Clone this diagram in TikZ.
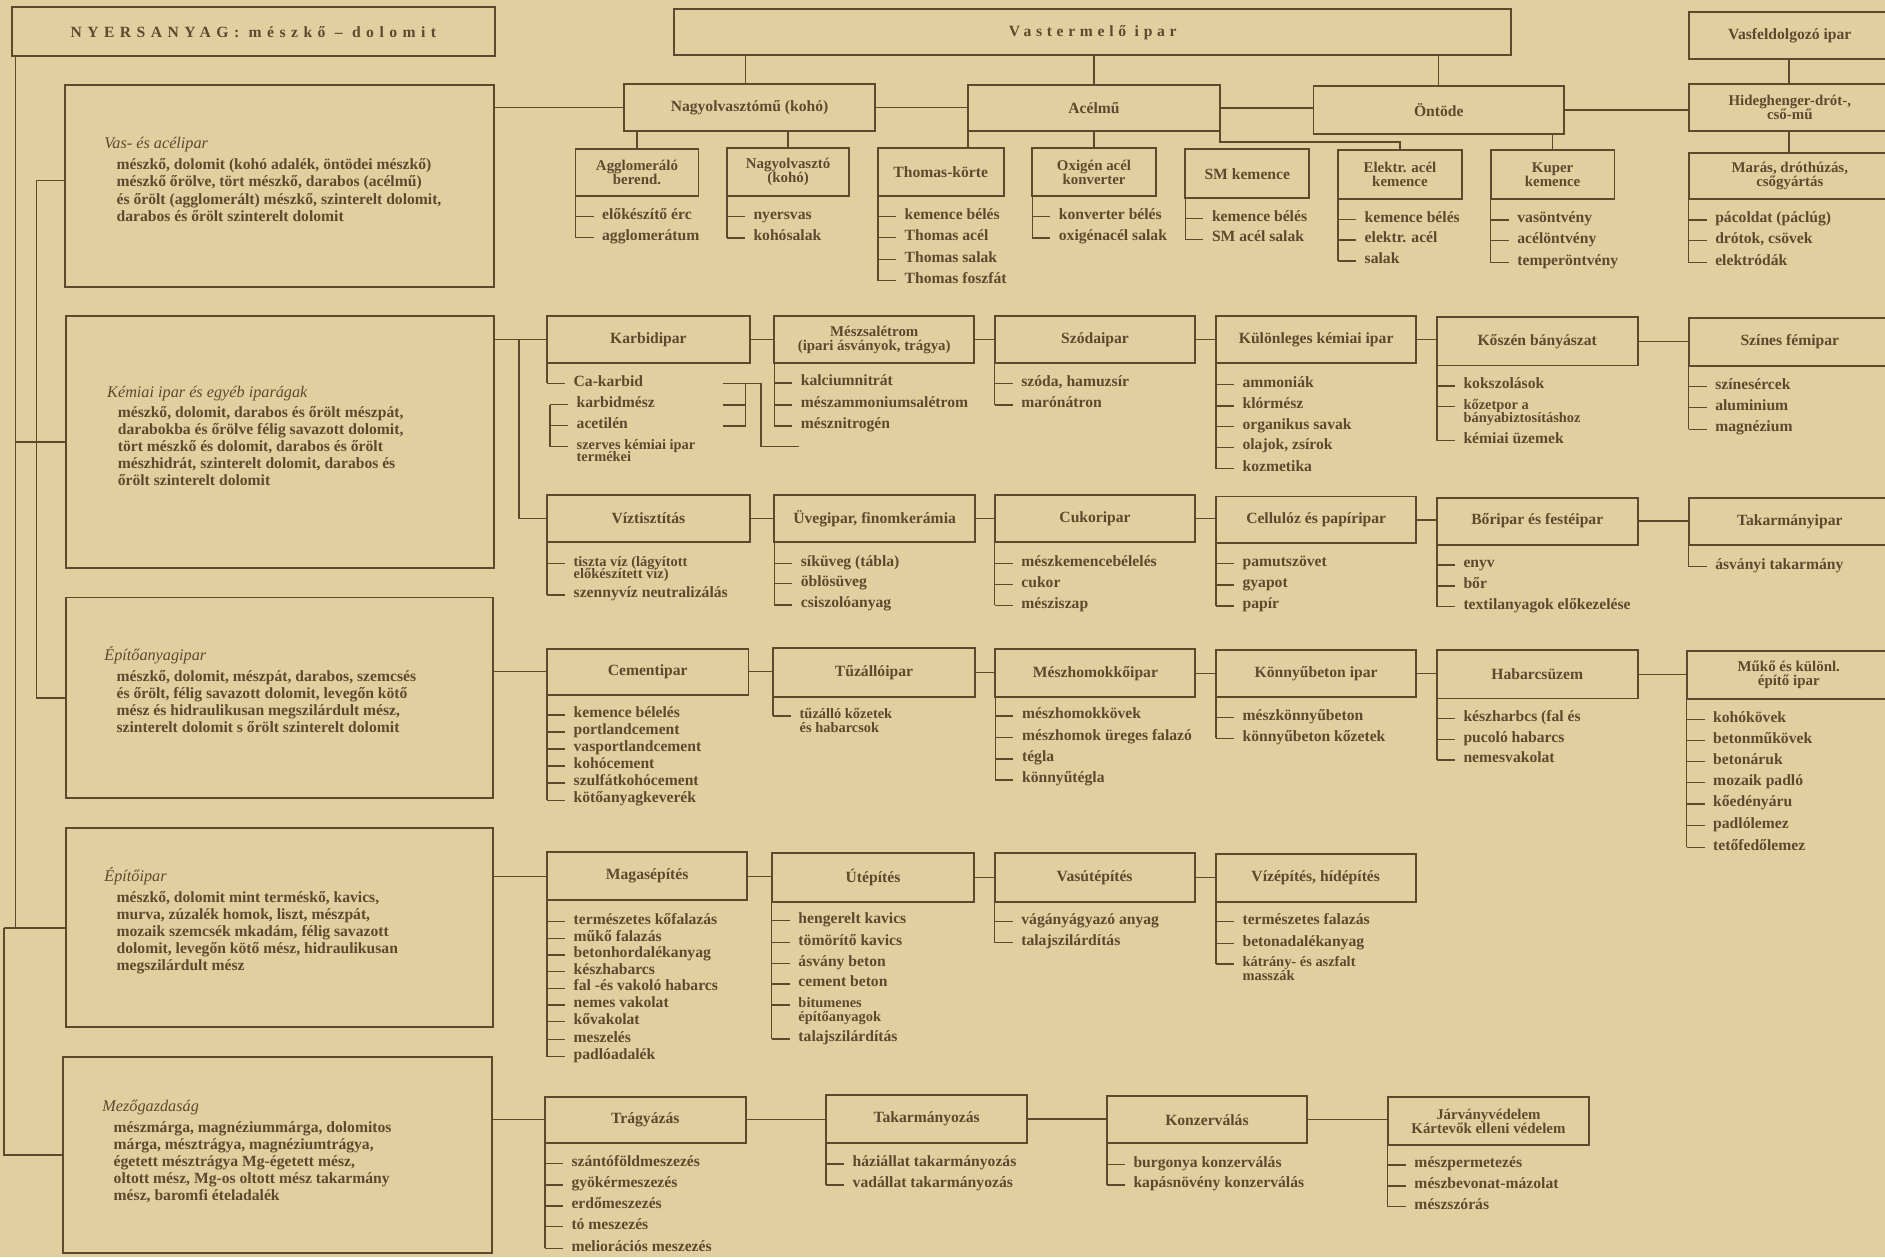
\documentclass[tikz,border=0pt]{standalone}
\usepackage{fontspec}
\setmainfont{Liberation Serif}
\definecolor{paper}{RGB}{226,207,160}
\definecolor{ink}{RGB}{96,72,46}
\newcommand\fHead{\fontsize{13}{13}\selectfont\bfseries}
\newcommand\fHeadS{\fontsize{12.4}{11.8}\selectfont\bfseries}
\newcommand\fItem{\fontsize{13}{14}\selectfont\bfseries}
\newcommand\fItemS{\fontsize{12}{11}\selectfont\bfseries}
\newcommand\fDesc{\fontsize{13}{14}\selectfont\bfseries}
\newcommand\fHdg{\fontsize{13.5}{14}\selectfont\itshape}
\newcommand\mkbox[7][]{\node[box,#1,anchor=north west,minimum width={(#5)-(#3)},minimum height={(#6)-(#4)}] (#2) at (#3,#4) {#7};}
\newcommand\mkitem[4]{\coordinate (#1t) at (#2,#3);\draw[tick] (#1t) -- ++(15,0);\node[itm] (#1) at (#2+22,#3) {#4};}
\newcommand\mkitemS[4]{\coordinate (#1t) at (#2,#3);\draw[tick] (#1t) -- ++(15,0);\node[itms] (#1) at (#2+22,#3) {#4};}
\newcommand\mkitemC[4]{\node[itms] (#1) at (#2+22,#3) {#4};}
\newcommand\mkdesc[4]{\node[dsc] (#1) at (#2,#3) {#4};}
\newcommand\mkhead[4]{\node[hdg] (#1) at (#2,#3) {#4};}
\begin{document}
\begin{tikzpicture}[x=1pt,y=-1pt,
  box/.style={draw=ink,line width=1.6pt,inner sep=0pt,outer sep=0pt,font=\fHead,text=ink,align=center},
  conn/.style={draw=ink,line width=1.15pt},
  tick/.style={draw=ink,line width=1.05pt},
  itm/.style={font=\fItem,text=ink,inner sep=0pt,anchor=mid west},
  itms/.style={font=\fItemS,text=ink,inner sep=0pt,anchor=mid west},
  dsc/.style={font=\fDesc,text=ink,inner sep=0pt,anchor=mid west},
  hdg/.style={font=\fHdg,text=ink,inner sep=0pt,anchor=mid west}]
\path[fill=paper,use as bounding box] (0,0) rectangle (1568,1046);
\clip (0,0) rectangle (1568,1046);
% ---------- top boxes
\mkbox{nyers}{10}{6}{411.5}{46.6}{\addfontfeature{LetterSpace=35}NYERSANYAG: mészkő – dolomit}
\mkbox{vast}{561}{7.5}{1257}{46}{\addfontfeature{LetterSpace=30}Vastermelő ipar}
\mkbox{vasfel}{1404.6}{9.7}{1573}{49.4}{Vasfeldolgozó ipar}
\mkbox{nagyk}{519}{69.5}{728}{109}{Nagyolvasztómű (kohó)}
\mkbox{acel}{805.3}{70.7}{1014.8}{108.7}{Acélmű}
\mkbox{ontode}{1092.6}{71.5}{1301}{111.8}{Öntöde}
\mkbox[font=\fHeadS]{hideg}{1404.6}{69.9}{1573}{108.7}{Hideghenger-drót-,\\cső-mű}
\mkbox[font=\fHeadS]{aggl}{478.7}{124}{581}{163}{Agglomeráló\\berend.}
\mkbox[font=\fHeadS]{nagyo}{604.6}{123.4}{706.5}{163}{Nagyolvasztó\\(kohó)}
\mkbox{thomas}{730.3}{123.4}{834.8}{163}{Thomas-körte}
\mkbox[font=\fHeadS]{oxig}{858.6}{123.4}{961.5}{163}{Oxigén acél\\konverter}
\mkbox{smk}{986}{124}{1089}{165}{SM kemence}
\mkbox[font=\fHeadS]{elektr}{1113}{124.8}{1216}{165.8}{Elektr. acél\\kemence}
\mkbox[font=\fHeadS]{kuper}{1240}{125}{1343}{165.8}{Kuper\\kemence}
\mkbox[font=\fHeadS]{maras}{1404.6}{127}{1573}{165.8}{Marás, dróthúzás,\\csőgyártás}
% ---------- left big boxes
\mkbox{vas}{54}{70.7}{411}{239}{}
\mkbox{kem}{55}{262.8}{410.8}{472.7}{}
\mkbox{epa}{55}{497}{410}{664}{}
\mkbox{epi}{55}{689}{410}{854.6}{}
\mkbox{mezo}{52.6}{879}{409}{1042.6}{}
% ---------- row 2a
\mkbox{karbid}{455}{263}{623.7}{302}{Karbidipar}
\mkbox[font=\fHeadS]{meszs}{644}{263}{810.4}{302}{Mészsalétrom\\(ipari ásványok, trágya)}
\mkbox{szoda}{827.4}{263}{994.4}{302}{Szódaipar}
\mkbox{kulon}{1011.4}{263}{1178.2}{302}{Különleges kémiai ipar}
\mkbox{koszen}{1195.2}{264}{1362.2}{304}{Kőszén bányászat}
\mkbox{szines}{1404.6}{264.8}{1573}{304.4}{Színes fémipar}
% ---------- row 2b
\mkbox{viz}{455}{412}{623.7}{450.6}{Víztisztítás}
\mkbox{uveg}{644}{412}{811}{450.6}{Üvegipar, finomkerámia}
\mkbox{cukor}{827.4}{412}{994.4}{450.6}{Cukoripar}
\mkbox{cell}{1011.4}{413}{1178.2}{452}{Cellulóz és papíripar}
\mkbox{bor}{1195.2}{414}{1362.2}{453}{Bőripar és festéipar}
\mkbox{takip}{1404.6}{414.5}{1573}{453.3}{Takarmányipar}
% ---------- row 3
\mkbox{cem}{455}{539.5}{622.6}{578}{Cementipar}
\mkbox{tuz}{643}{539.3}{811}{579.5}{Tűzállóipar}
\mkbox{meszh}{828}{540}{994.4}{580}{Mészhomokkőipar}
\mkbox{konny}{1011.4}{540.7}{1178.2}{580}{Könnyűbeton ipar}
\mkbox{habarcs}{1195.2}{541}{1362.2}{581}{Habarcsüzem}
\mkbox[font=\fHeadS]{muko}{1402.9}{541.3}{1573}{581.5}{Műkő és különl.\\építő ipar}
% ---------- row 4
\mkbox{magas}{455}{709}{621.6}{748.7}{Magasépítés}
\mkbox{ut}{642}{709.5}{810.4}{750}{Útépítés}
\mkbox{vasut}{827.4}{709.5}{993.7}{750}{Vasútépítés}
\mkbox{vize}{1011.4}{710.4}{1177.5}{750}{Vízépítés, hídépítés}
% ---------- row 5
\mkbox{tragy}{453.2}{912.3}{620.3}{950.5}{Trágyázás}
\mkbox{takarm}{687.1}{910.9}{854.5}{950.5}{Takarmányozás}
\mkbox{konz}{920.7}{911.7}{1087.2}{951}{Konzerválás}
\mkbox[font=\fHeadS]{jarv}{1154.4}{912.8}{1321.8}{952.5}{Járványvédelem\\Kártevők elleni védelem}
% ---------- descriptions
\mkhead{h1}{86.6}{121}{Vas- és acélipar}
\mkdesc{d11}{96.8}{139}{mészkő, dolomit (kohó adalék, öntödei mészkő)}
\mkdesc{d12}{96.8}{153.2}{mészkő őrölve, tört mészkő, darabos (acélmű)}
\mkdesc{d13}{96.8}{167.4}{és őrölt (agglomerált) mészkő, szinterelt dolomit,}
\mkdesc{d14}{96.8}{181.6}{darabos és őrölt szinterelt dolomit}
\mkhead{h2}{89}{328}{Kémiai ipar és egyéb iparágak}
\mkdesc{d21}{97.8}{345}{mészkő, dolomit, darabos és őrölt mészpát,}
\mkdesc{d22}{97.8}{359.1}{darabokba és őrölve félig savazott dolomit,}
\mkdesc{d23}{97.8}{373.2}{tört mészkő és dolomit, darabos és őrölt}
\mkdesc{d24}{97.8}{387.3}{mészhidrát, szinterelt dolomit, darabos és}
\mkdesc{d25}{97.8}{401.4}{őrölt szinterelt dolomit}
\mkhead{h3}{86.6}{546.8}{Építőanyagipar}
\mkdesc{d31}{96.8}{564.3}{mészkő, dolomit, mészpát, darabos, szemcsés}
\mkdesc{d32}{96.8}{578.5}{és őrölt, félig savazott dolomit, levegőn kötő}
\mkdesc{d33}{96.8}{592.7}{mész és hidraulikusan megszilárdult mész,}
\mkdesc{d34}{96.8}{606.9}{szinterelt dolomit s őrölt szinterelt dolomit}
\mkhead{h4}{86.6}{730.6}{Építőipar}
\mkdesc{d41}{96.8}{748.1}{mészkő, dolomit mint terméskő, kavics,}
\mkdesc{d42}{96.8}{762.3}{murva, zúzalék homok, liszt, mészpát,}
\mkdesc{d43}{96.8}{776.5}{mozaik szemcsék mkadám, félig savazott}
\mkdesc{d44}{96.8}{790.7}{dolomit, levegőn kötő mész, hidraulikusan}
\mkdesc{d45}{96.8}{804.9}{megszilárdult mész}
\mkhead{h5}{85}{922}{Mezőgazdaság}
\mkdesc{d51}{94.4}{940}{mészmárga, magnéziummárga, dolomitos}
\mkdesc{d52}{94.4}{954.1}{márga, mésztrágya, magnéziumtrágya,}
\mkdesc{d53}{94.4}{968.2}{égetett mésztrágya Mg-égetett mész,}
\mkdesc{d54}{94.4}{982.3}{oltott mész, Mg-os oltott mész takarmány}
\mkdesc{d55}{94.4}{996.4}{mész, baromfi ételadalék}
% ---------- trunk lines
\coordinate (tv) at (30.5,150);
\coordinate (tb) at (3.4,0);
\draw[conn] (12.9,0 |- nyers.south) -- (12.9,0 |- epi.west);
\draw[conn] (12.9,0 |- kem.west) -- (kem.west);
\draw[conn] (tb |- epi.west) -- (epi.west);
\draw[conn] (tb |- epi.west) |- (mezo.west);
\draw[conn] (vas.west |- tv) -- (tv) -- (tv |- epa.west) -- (epa.west);
% ---------- connectors from left boxes
\draw[conn] (vas.east |- nagyk.west) -- (nagyk.west);
\draw[conn] (kem.east |- karbid.west) -- (karbid.west);
\draw[conn] (431.8,0 |- karbid.west) |- (viz.west);
\draw[conn] (epa.east |- cem.west) -- (cem.west);
\draw[conn] (epi.east |- magas.west) -- (magas.west);
\draw[conn] (mezo.east |- tragy.west) -- (tragy.west);
% ---------- top connectors
\draw[conn] (620.3,0 |- vast.south) -- (620.3,0 |- nagyk.north);
\draw[conn] (acel.north |- vast.south) -- (acel.north);
\draw[conn] (ontode.north |- vast.south) -- (ontode.north);
\draw[conn] (1488,0 |- vasfel.south) -- (1488,0 |- hideg.north);
\draw[conn] (1488,0 |- hideg.south) -- (1488,0 |- maras.north);
\draw[conn] (nagyk.east) -- (nagyk.east -| acel.west);
\draw[conn] (acel.east) -- (acel.east -| ontode.west);
\draw[conn] (ontode.east) -- (ontode.east -| hideg.west);
\draw[conn] (aggl.north |- nagyk.south) -- (aggl.north);
\draw[conn] (nagyo.north |- nagyk.south) -- (nagyo.north);
\draw[conn] (acel.south west) -- (acel.south west |- thomas.north);
\draw[conn] (oxig.north |- acel.south) -- (oxig.north);
\draw[conn] (acel.south east) -- ++(0,9.5) -| (elektr.north);
\draw[conn] (kuper.north |- ontode.south) -- (kuper.north);
% ---------- row connectors
\foreach \a/\b in {karbid/meszs,meszs/szoda,szoda/kulon,kulon/koszen,koszen/szines,
  viz/uveg,uveg/cukor,cukor/cell,cell/bor,bor/takip,
  cem/tuz,tuz/meszh,meszh/konny,konny/habarcs,habarcs/muko,
  magas/ut,ut/vasut,vasut/vize,
  tragy/takarm,takarm/konz,konz/jarv}
  {\draw[conn] (\a.east) -- (\a.east -| \b.west);}
% ---------- item lists
\mkitem{ag1}{478.7}{180}{előkészítő érc}
\mkitem{ag2}{478.7}{197.5}{agglomerátum}
\draw[conn] (aggl.south west) -- (ag2t);
\mkitem{na1}{604.6}{180.2}{nyersvas}
\mkitem{na2}{604.6}{198}{kohósalak}
\draw[conn] (nagyo.south west) -- (na2t);
\mkitem{th1}{730.3}{180}{kemence bélés}
\mkitem{th2}{730.3}{197.8}{Thomas acél}
\mkitem{th3}{730.3}{215.7}{Thomas salak}
\mkitem{th4}{730.3}{233.5}{Thomas foszfát}
\draw[conn] (thomas.south west) -- (th4t);
\mkitem{ox1}{858.6}{180}{konverter bélés}
\mkitem{ox2}{858.6}{198}{oxigénacél salak}
\draw[conn] (oxig.south west) -- (ox2t);
\mkitem{sm1}{986}{181.6}{kemence bélés}
\mkitem{sm2}{986}{199}{SM acél salak}
\draw[conn] (smk.south west) -- (sm2t);
\mkitem{el1}{1113}{182.5}{kemence bélés}
\mkitem{el2}{1113}{199.7}{elektr. acél}
\mkitem{el3}{1113}{217}{salak}
\draw[conn] (elektr.south west) -- (el3t);
\mkitem{ku1}{1240}{183}{vasöntvény}
\mkitem{ku2}{1240}{200}{acélöntvény}
\mkitem{ku3}{1240}{218.5}{temperöntvény}
\draw[conn] (kuper.south west) -- (ku3t);
\mkitem{ma1}{1404.6}{183}{pácoldat (páclúg)}
\mkitem{ma2}{1404.6}{200}{drótok, csövek}
\mkitem{ma3}{1404.6}{218.5}{elektródák}
\draw[conn] (maras.south west) -- (ma3t);
% karbid
\mkitem{kb1}{455}{319}{Ca-karbid}
\draw[conn] (karbid.south west) -- (kb1t);
\mkitem{kb2}{457.5}{336.5}{karbidmész}
\mkitem{kb3}{457.5}{354}{acetilén}
\mkitemS{kb4}{457.5}{371.5}{szerves kémiai ipar}
\mkitemC{kb5}{457.5}{382}{termékei}
\draw[conn] (kb2t) -- (kb4t);
\coordinate (kx1) at (601,319);
\coordinate (kx2) at (601,336.8);
\coordinate (kx3) at (601,354.3);
\coordinate (kj) at (620.3,319);
\coordinate (kk) at (633,319);
\coordinate (kend) at (665,371.5);
\draw[conn] (kx1) -- (kk) -- (kk |- kend) -- (kend);
\draw[conn] (kx2) -- (kx2 -| kj);
\draw[conn] (kx3) -- (kx3 -| kj) -- (kj);
\mkitem{ms1}{644}{318.5}{kalciumnitrát}
\mkitem{ms2}{644}{336.8}{mészammoniumsalétrom}
\mkitem{ms3}{644}{354.3}{mésznitrogén}
\draw[conn] (meszs.south west) -- (ms3t);
\mkitem{sz1}{827.4}{318.8}{szóda, hamuzsír}
\mkitem{sz2}{827.4}{336.8}{marónátron}
\draw[conn] (szoda.south west) -- (sz2t);
\mkitem{kl1}{1011.4}{320}{ammoniák}
\mkitem{kl2}{1011.4}{337.7}{klórmész}
\mkitem{kl3}{1011.4}{355}{organikus savak}
\mkitem{kl4}{1011.4}{372}{olajok, zsírok}
\mkitem{kl5}{1011.4}{390}{kozmetika}
\draw[conn] (kulon.south west) -- (kl5t);
\mkitem{ks1}{1195.2}{321}{kokszolások}
\mkitemS{ks2}{1195.2}{338.2}{kőzetpor a}
\mkitemC{ks2b}{1195.2}{348.8}{bányabiztosításhoz}
\mkitem{ks3}{1195.2}{366.5}{kémiai üzemek}
\draw[conn] (koszen.south west) -- (ks3t);
\mkitem{sn1}{1404.6}{321.6}{színesércek}
\mkitem{sn2}{1404.6}{338.8}{aluminium}
\mkitem{sn3}{1404.6}{357}{magnézium}
\draw[conn] (szines.south west) -- (sn3t);
% row 2b
\mkitemS{vz1}{455}{468.6}{tiszta víz (lágyított}
\mkitemC{vz1b}{455}{478.6}{előkészített víz)}
\mkitem{vz2}{455}{495}{szennyvíz neutralizálás}
\draw[conn] (viz.south west) -- (vz2t);
\mkitem{uv1}{644}{468.6}{síküveg (tábla)}
\mkitem{uv2}{644}{485.2}{öblösüveg}
\mkitem{uv3}{644}{503.2}{csiszolóanyag}
\draw[conn] (uveg.south west) -- (uv3t);
\mkitem{ck1}{827.4}{468.6}{mészkemencebélelés}
\mkitem{ck2}{827.4}{486}{cukor}
\mkitem{ck3}{827.4}{503.5}{mésziszap}
\draw[conn] (cukor.south west) -- (ck3t);
\mkitem{ce1}{1011.4}{468.6}{pamutszövet}
\mkitem{ce2}{1011.4}{486.6}{gyapot}
\mkitem{ce3}{1011.4}{504}{papír}
\draw[conn] (cell.south west) -- (ce3t);
\mkitem{bo1}{1195.2}{470}{enyv}
\mkitem{bo2}{1195.2}{487.4}{bőr}
\mkitem{bo3}{1195.2}{504.6}{textilanyagok előkezelése}
\draw[conn] (bor.south west) -- (bo3t);
\mkitem{tk1}{1404.6}{471.3}{ásványi takarmány}
\draw[conn] (takip.south west) -- (tk1t);
% row 3
\mkitem{cm1}{455}{594.8}{kemence bélelés}
\mkitem{cm2}{455}{608.8}{portlandcement}
\mkitem{cm3}{455}{623}{vasportlandcement}
\mkitem{cm4}{455}{637.2}{kohócement}
\mkitem{cm5}{455}{651.4}{szulfátkohócement}
\mkitem{cm6}{455}{665.6}{kötőanyagkeverék}
\draw[conn] (cem.south west) -- (cm6t);
\mkitemS{tz1}{643}{595.6}{tűzálló kőzetek}
\mkitemC{tz1b}{643}{606.6}{és habarcsok}
\draw[conn] (tuz.south west) -- (tz1t);
\mkitem{mh1}{828}{595.6}{mészhomokkövek}
\mkitem{mh2}{828}{613.4}{mészhomok üreges falazó}
\mkitem{mh3}{828}{631.4}{tégla}
\mkitem{mh4}{828}{648.8}{könnyűtégla}
\draw[conn] (meszh.south west) -- (mh4t);
\mkitem{kn1}{1011.4}{596.7}{mészkönnyűbeton}
\mkitem{kn2}{1011.4}{614.2}{könnyűbeton kőzetek}
\draw[conn] (konny.south west) -- (kn2t);
\mkitem{hb1}{1195.2}{597.5}{készharbcs (fal és}
\mkitem{hb2}{1195.2}{615}{pucoló habarcs}
\mkitem{hb3}{1195.2}{632.2}{nemesvakolat}
\draw[conn] (habarcs.south west) -- (hb3t);
\mkitem{mk1}{1402.9}{598.4}{kohókövek}
\mkitem{mk2}{1402.9}{616.1}{betonműkövek}
\mkitem{mk3}{1402.9}{633.6}{betonáruk}
\mkitem{mk4}{1402.9}{651.1}{mozaik padló}
\mkitem{mk5}{1402.9}{668.8}{kőedényáru}
\mkitem{mk6}{1402.9}{686.8}{padlólemez}
\mkitem{mk7}{1402.9}{704.9}{tetőfedőlemez}
\draw[conn] (muko.south west) -- (mk7t);
% row 4
\mkitem{mg1}{455}{766.7}{természetes kőfalazás}
\mkitem{mg2}{455}{780.5}{műkő falazás}
\mkitem{mg3}{455}{794.3}{betonhordalékanyag}
\mkitem{mg4}{455}{808}{készhabarcs}
\mkitem{mg5}{455}{822}{fal -és vakoló habarcs}
\mkitem{mg6}{455}{836}{nemes vakolat}
\mkitem{mg7}{455}{850}{kővakolat}
\mkitem{mg8}{455}{864.6}{meszelés}
\mkitem{mg9}{455}{879}{padlóadalék}
\draw[conn] (magas.south west) -- (mg9t);
\mkitem{ut1}{642}{765.9}{hengerelt kavics}
\mkitem{ut2}{642}{784.2}{tömörítő kavics}
\mkitem{ut3}{642}{801.3}{ásvány beton}
\mkitem{ut4}{642}{818.5}{cement beton}
\mkitemS{ut5}{642}{836}{bitumenes}
\mkitemC{ut5b}{642}{847}{építőanyagok}
\mkitem{ut6}{642}{864.3}{talajszilárdítás}
\draw[conn] (ut.south west) -- (ut6t);
\mkitem{vu1}{827.4}{766.7}{vágányágyazó anyag}
\mkitem{vu2}{827.4}{784.2}{talajszilárdítás}
\draw[conn] (vasut.south west) -- (vu2t);
\mkitem{ve1}{1011.4}{766.7}{természetes falazás}
\mkitem{ve2}{1011.4}{784.7}{betonadalékanyag}
\mkitemS{ve3}{1011.4}{801.9}{kátrány- és aszfalt}
\mkitemC{ve3b}{1011.4}{812.9}{masszák}
\draw[conn] (vize.south west) -- (ve3t);
% row 5
\mkitem{tr1}{453.2}{967.7}{szántóföldmeszezés}
\mkitem{tr2}{453.2}{985.8}{gyökérmeszezés}
\mkitem{tr3}{453.2}{1003.2}{erdőmeszezés}
\mkitem{tr4}{453.2}{1020.4}{tó meszezés}
\mkitem{tr5}{453.2}{1038.4}{meliorációs meszezés}
\draw[conn] (tragy.south west) -- (tr5t);
\mkitem{ta1}{687.1}{968.3}{háziállat takarmányozás}
\mkitem{ta2}{687.1}{985.8}{vadállat takarmányozás}
\draw[conn] (takarm.south west) -- (ta2t);
\mkitem{ko1}{920.7}{968.6}{burgonya konzerválás}
\mkitem{ko2}{920.7}{985.8}{kapásnövény konzerválás}
\draw[conn] (konz.south west) -- (ko2t);
\mkitem{ja1}{1154.4}{969.1}{mészpermetezés}
\mkitem{ja2}{1154.4}{986.6}{mészbevonat-mázolat}
\mkitem{ja3}{1154.4}{1003.8}{mészszórás}
\draw[conn] (jarv.south west) -- (ja3t);
\end{tikzpicture}
\end{document}
